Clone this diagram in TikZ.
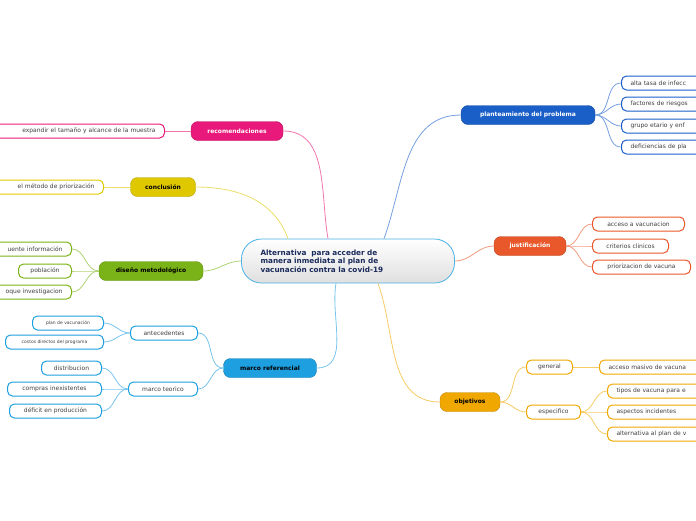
\documentclass[tikz,border=0pt]{standalone}
\usepackage{fontspec}
\setmainfont{DejaVu Sans}
\usetikzlibrary{positioning}
\definecolor{cblue}{HTML}{1A5FC8}
\definecolor{corange}{HTML}{E8582A}
\definecolor{cgold}{HTML}{F0A800}
\definecolor{ccyan}{HTML}{1E9FE0}
\definecolor{cgreen}{HTML}{7AB317}
\definecolor{cyell}{HTML}{E0C800}
\definecolor{cpink}{HTML}{E8197A}
\definecolor{cnavy}{HTML}{1A2A5A}
\tikzset{
  Main/.style={rounded corners=7pt, fill=#1, draw=#1!80!black, minimum height=19pt, inner sep=0pt, font=\fontsize{6}{7}\selectfont\bfseries},
  Leaf/.style={rounded corners=5pt, draw=#1, line width=1pt, fill=white, minimum height=14pt, inner ysep=3pt, inner xsep=9pt, font=\fontsize{6}{7}\selectfont, text=black!75},
  Link/.style={#1!60, line width=0.8pt},
}
\begin{document}
\begin{tikzpicture}[x=1pt,y=-1pt]
\useasboundingbox (0,0) rectangle (696,520);
\clip (0,0) rectangle (696,520);
% centre
\node[rounded corners=20pt, draw=ccyan!80, line width=0.8pt, top color=white, bottom color=gray!25, minimum width=213pt, minimum height=44pt, text width=175pt, align=left, font=\fontsize{7.3}{8.3}\selectfont\bfseries, text=cnavy] (c) at (348,261) {Alternativa \ para acceder de\\manera inmediata al plan de\\vacunación contra la covid-19};
% main topics
\node[Main=cblue, minimum width=134pt, text=white] (pl) at (528,115) {planteamiento del problema};
\node[Main=corange, minimum width=72pt, text=white] (ju) at (530,246) {justificación};
\node[Main=cgold, minimum width=60pt] (ob) at (470,402) {objetivos};
\node[Main=ccyan, minimum width=93pt] (mr) at (270,368) {marco referencial};
\node[Main=cgreen, minimum width=104pt] (dm) at (151,271) {diseño metodológico};
\node[Main=cyell, minimum width=65pt] (co) at (163,187) {conclusión};
\node[Main=cpink, minimum width=92pt, text=white] (re) at (237,131) {recomendaciones};
% central links
\draw[Link=cblue] (c.north) ++(36,0) to[out=70,in=180] (pl.west);
\draw[Link=corange] (c.east) to[out=0,in=180] (ju.west);
\draw[Link=cgold] (c.south) ++(30,0) to[out=-70,in=180] (ob.west);
\draw[Link=ccyan] (c.south) ++(-12,0) to[out=-100,in=0] (mr.east);
\draw[Link=cgreen] (c.west) to[out=180,in=0] (dm.east);
\draw[Link=cyell] (c.north) ++(-60,0) to[out=110,in=0] (co.east);
\draw[Link=cpink] (c.north) ++(-20,0) to[out=100,in=0] (re.east);
% planteamiento
\foreach \n/\y/\t in {1/83/alta tasa de infecc, 2/104/factores de riesgos, 3/126/grupo etario y enf, 4/147/deficiencias de pla}{
  \node[Leaf=cblue, anchor=west, text width=74pt, align=left] (pl\n) at (621,\y) {\t};
  \draw[Link=cblue] (pl.east) to[out=0,in=180] (pl\n.west);
}
% justificacion
\node[Leaf=corange, anchor=west, minimum width=92pt] (ju1) at (592,224) {acceso a vacunacion};
\node[Leaf=corange, anchor=west, minimum width=76pt] (ju2) at (592,246) {criterios clinicos};
\node[Leaf=corange, anchor=west, minimum width=98pt] (ju3) at (592,267) {priorizacion de vacuna};
\foreach \n in {1,2,3}
  \draw[Link=corange] (ju.east) to[out=0,in=180] (ju\n.west);
% objetivos
\node[Leaf=cgold, anchor=west, minimum width=46pt] (ge) at (526,367) {general};
\node[Leaf=cgold, anchor=west, minimum width=54pt] (es) at (526,412) {especifico};
\node[Leaf=cgold, anchor=west, text width=90pt, align=left] (ge1) at (599,367) {acceso masivo de vacuna};
\node[Leaf=cgold, anchor=west, text width=90pt, align=left] (es1) at (607,391) {tipos de vacuna para e};
\node[Leaf=cgold, anchor=west, text width=90pt, align=left] (es2) at (607,412) {aspectos incidentes};
\node[Leaf=cgold, anchor=west, text width=90pt, align=left] (es3) at (607,434) {alternativa al plan de v};
\draw[Link=cgold] (ob.east) to[out=0,in=180] (ge.west);
\draw[Link=cgold] (ob.east) to[out=0,in=180] (es.west);
\draw[Link=cgold] (ge.east) to (ge1.west);
\foreach \n in {1,2,3}
  \draw[Link=cgold] (es.east) to[out=0,in=180] (es\n.west);
% marco referencial
\node[Leaf=ccyan, anchor=east, minimum width=67pt] (an) at (198,333) {antecedentes};
\node[Leaf=ccyan, anchor=east, minimum width=69pt] (mt) at (198,389) {marco teorico};
\node[Leaf=ccyan, anchor=east, minimum width=71pt, font=\fontsize{4.5}{5}\selectfont] (an1) at (104,323) {plan de vacunación};
\node[Leaf=ccyan, anchor=east, minimum width=98pt, font=\fontsize{4.5}{5}\selectfont] (an2) at (104,342) {costos directos del programa};
\node[Leaf=ccyan, anchor=east, minimum width=60pt] (mt1) at (102,368) {distribucion};
\node[Leaf=ccyan, anchor=east, minimum width=94pt] (mt2) at (102,389) {compras inexistentes};
\node[Leaf=ccyan, anchor=east, minimum width=92pt] (mt3) at (102,411) {déficit en producción};
\draw[Link=ccyan] (mr.west) to[out=180,in=0] (an.east);
\draw[Link=ccyan] (mr.west) to[out=180,in=0] (mt.east);
\foreach \n in {1,2}
  \draw[Link=ccyan] (an.west) to[out=180,in=0] (an\n.east);
\foreach \n in {1,2,3}
  \draw[Link=ccyan] (mt.west) to[out=180,in=0] (mt\n.east);
% diseño metodologico
\node[Leaf=cgreen, anchor=east, text width=70pt, align=right] (dm1) at (72,249) {uente información};
\node[Leaf=cgreen, anchor=east, minimum width=53pt] (dm2) at (72,271) {población};
\node[Leaf=cgreen, anchor=east, text width=70pt, align=right] (dm3) at (72,292) {oque investigacion};
\foreach \n in {1,2,3}
  \draw[Link=cgreen] (dm.west) to[out=180,in=0] (dm\n.east);
% conclusion
\node[Leaf=cyell, anchor=east, text width=96pt, align=right] (co1) at (104,187) {el método de priorización};
\draw[Link=cyell] (co.west) to (co1.east);
% recomendaciones
\node[Leaf=cpink, anchor=east, text width=160pt, align=right] (re1) at (165,131) {expandir el tamaño y alcance de la muestra};
\draw[Link=cpink] (re.west) to (re1.east);
\end{tikzpicture}
\end{document}
